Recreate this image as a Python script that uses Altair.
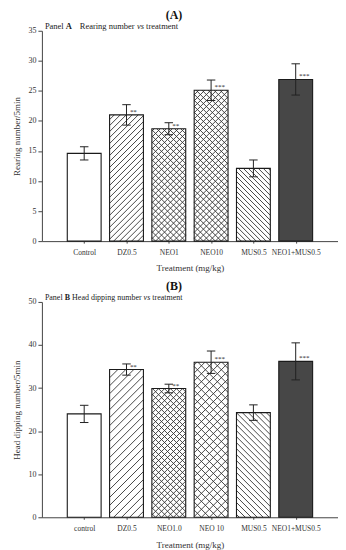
import math
import altair as alt
import pandas as pd

FONT = "Liberation Serif"

# ---------------- data ----------------
cats_a = ["Control", "DZ0.5", "NEO1", "NEO10", "MUS0.5", "NEO1+MUS0.5"]
vals_a = [14.6, 21.0, 18.7, 25.1, 12.1, 26.9]
errs_a = [1.1, 1.7, 1.0, 1.7, 1.4, 2.6]
stars_a = ["", "**", "**", "***", "", "***"]

cats_b = ["control", "DZ0.5", "NEO1.0", "NEO 10", "MUS0.5", "NEO1+MUS0.5"]
vals_b = [24.0, 34.3, 29.9, 36.0, 24.3, 36.2]
errs_b = [2.0, 1.3, 1.0, 2.6, 1.8, 4.3]
stars_b = ["", "**", "**", "***", "", "***"]

patterns = ["none", "fwd", "cross", "cross", "back", "dense"]
spacing_a = [0, 6, 6, 6, 5, 0]
spacing_b = [0, 8, 6, 8, 6, 0]

XMAX = 7
HALF = 0.4


def hatch_rows(i, val, kind, spacing, W, H, ymax):
    sx = W / XMAX
    sy = H / ymax
    px0, px1 = (i - HALF) * sx, (i + HALF) * sx
    py0, py1 = 0.0, val * sy
    rows = []
    dirs = []
    if kind in ("fwd", "cross"):
        dirs.append(1)
    if kind in ("back", "cross"):
        dirs.append(-1)
    for d in dirs:
        if d == 1:
            cmin, cmax = py0 - px1, py1 - px0
        else:
            cmin, cmax = py0 + px0, py1 + px1
        k = math.ceil(cmin / spacing)
        while k * spacing <= cmax:
            c = k * spacing
            if d == 1:
                lo, hi = max(px0, py0 - c), min(px1, py1 - c)
                if hi - lo > 0.3:
                    rows.append({"hx": lo / sx, "hy": (lo + c) / sy,
                                 "hx2": hi / sx, "hy2": (hi + c) / sy})
            else:
                lo, hi = max(px0, c - py1), min(px1, c - py0)
                if hi - lo > 0.3:
                    rows.append({"hx": lo / sx, "hy": (c - lo) / sy,
                                 "hx2": hi / sx, "hy2": (c - hi) / sy})
            k += 1
    return rows


def make_panel(cats, vals, errs, stars, spacings, ymax, ystep, W, H,
               ytitle, letter, letter_dy, heading, heading_dy, heading_size,
               xtitle_dy, ytitle_dx):
    idx = list(range(1, len(cats) + 1))
    df = pd.DataFrame({
        "i": idx,
        "x0": [i - HALF for i in idx],
        "x1": [i + HALF for i in idx],
        "zero": [0] * len(idx),
        "v": vals,
        "lo": [v - e for v, e in zip(vals, errs)],
        "hi": [v + e for v, e in zip(vals, errs)],
        "c0": [i - 0.1 for i in idx],
        "c1": [i + 0.1 for i in idx],
        "sx": [i + 0.08 for i in idx],
        "star": stars,
        "fill": ["#474747" if p == "dense" else "white" for p in patterns],
    })
    hrows = []
    for i, v, p, s in zip(idx, vals, patterns, spacings):
        if p in ("fwd", "back", "cross"):
            hrows += hatch_rows(i, v, p, s, W, H, ymax)
    hdf = pd.DataFrame(hrows)

    xs = alt.Scale(domain=[0, XMAX], nice=False, zero=False)
    ys = alt.Scale(domain=[0, ymax], nice=False)
    label_arr = "[" + ",".join("'" + c + "'" for c in cats) + "]"

    xaxis = alt.Axis(values=idx, labelExpr=label_arr + "[datum.value-1]",
                     tickSize=2, labelPadding=5, labelFont=FONT, labelFontSize=7.5,
                     labelColor="#333", domainColor="#444", tickColor="#444",
                     grid=False, title="Treatment (mg/kg)", titleFont=FONT,
                     titleFontSize=9, titleFontWeight="normal", titleColor="#333",
                     titleY=xtitle_dy, titleBaseline="middle")
    yaxis = alt.Axis(values=list(range(0, ymax + 1, ystep)), tickSize=4,
                     labelPadding=2, labelFont=FONT, labelFontSize=8,
                     labelColor="#333", domainColor="#444", tickColor="#444",
                     grid=False, title=ytitle, titleFont=FONT, titleFontSize=9,
                     titleFontWeight="normal", titleColor="#333",
                     titleX=-ytitle_dx, titleY=H / 2, titleAngle=270,
                     titleAlign="center", titleBaseline="middle")

    def X(f):
        return alt.X(f, scale=xs, axis=xaxis)

    def Y(f):
        return alt.Y(f, scale=ys, axis=yaxis)

    base = alt.Chart(df)
    fills = base.mark_rect(strokeWidth=0).encode(
        x=X("x0:Q"), x2="x1:Q", y=Y("zero:Q"), y2="v:Q",
        fill=alt.Fill("fill:N", scale=None),
    )
    hatch = alt.Chart(hdf).mark_rule(color="#333", strokeWidth=0.9).encode(
        x=X("hx:Q"), x2="hx2:Q", y=Y("hy:Q"), y2="hy2:Q",
    )
    outline = base.mark_rect(fillOpacity=0, stroke="#1a1a1a", strokeWidth=1.1).encode(
        x=X("x0:Q"), x2="x1:Q", y=Y("zero:Q"), y2="v:Q",
    )
    evert = base.mark_rule(color="#222", strokeWidth=1).encode(
        x=X("i:Q"), y=Y("lo:Q"), y2="hi:Q",
    )
    ctop = base.mark_rule(color="#222", strokeWidth=1).encode(
        x=X("c0:Q"), x2="c1:Q", y=Y("hi:Q"),
    )
    cbot = base.mark_rule(color="#222", strokeWidth=1).encode(
        x=X("c0:Q"), x2="c1:Q", y=Y("lo:Q"),
    )
    star = base.mark_text(
        font=FONT, fontSize=7, align="left", baseline="middle", dy=-3, color="#222"
    ).encode(
        x=X("sx:Q"), y=Y("v:Q"), text="star:N",
    )
    layers = [fills, hatch, outline, evert, ctop, cbot, star]

    layers.append(alt.Chart(pd.DataFrame({"t": [letter]})).mark_text(
        font=FONT, fontSize=12, fontWeight="bold", align="center",
        baseline="middle", color="#111").encode(
        x=alt.value(W / 2 - 16), y=alt.value(letter_dy), text="t:N"))
    for txt, dx, wt, st in heading:
        layers.append(alt.Chart(pd.DataFrame({"t": [txt]})).mark_text(
            font=FONT, fontSize=heading_size, fontWeight=wt, fontStyle=st,
            align="left", baseline="middle", color="#222").encode(
            x=alt.value(dx), y=alt.value(heading_dy), text="t:N"))

    return alt.layer(*layers).properties(width=W, height=H)


# heading pieces: (text, x offset from plot's left edge, weight, style)
head_a = [("Panel", 3, "normal", "normal"), ("A", 24, "bold", "normal"),
          ("Rearing number", 38, "normal", "normal"),
          ("vs", 95.5, "normal", "italic"), ("treatment", 104.5, "normal", "normal")]
head_b = [("Panel", 3, "normal", "normal"), ("B", 22.8, "bold", "normal"),
          ("Head dipping number", 30.3, "normal", "normal"),
          ("vs", 102, "normal", "italic"), ("treatment", 110.8, "normal", "normal")]

pa = make_panel(cats_a, vals_a, errs_a, stars_a, spacing_a, 35, 5, 297, 211,
                "Rearing number/5min", "(A)", -16, head_a, -4.8, 8.5, 26, 25)
pb = make_panel(cats_b, vals_b, errs_b, stars_b, spacing_b, 50, 10, 297, 216,
                "Head dipping number/5min", "(B)", -15.5, head_b, -4, 8, 27, 25)

chart = alt.vconcat(pa, pb, spacing=8).properties(
    padding={"left": 5, "top": 0, "right": 0, "bottom": 0}
).configure_view(stroke=None)

chart.save("out.html", embed_options={"renderer": "svg", "actions": False})
